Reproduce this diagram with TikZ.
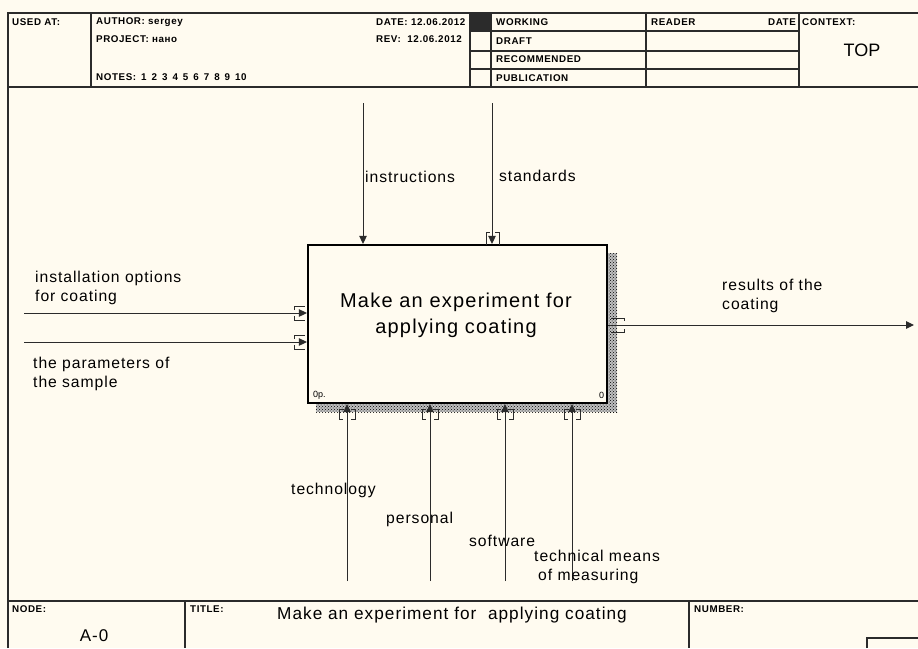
\documentclass[tikz,border=0pt]{standalone}
\usepackage{fontspec}
\setmainfont{Liberation Sans}
\newfontfamily\lblfont[LetterSpace=6]{Liberation Sans}
\newfontfamily\hdrfont[LetterSpace=6]{Liberation Sans}
\usetikzlibrary{arrows.meta,patterns}
\definecolor{bg}{HTML}{FFFBF0}
\definecolor{ink}{HTML}{2B2B2B}
\newcommand{\nsp}{\hspace{5pt}}
\begin{document}
\begin{tikzpicture}[x=1pt,y=-1pt,
  frame/.style={draw=ink, line width=1.4pt},
  thin/.style={draw=ink, line width=1.1pt},
  hdr/.style={anchor=west, inner sep=0pt, font=\hdrfont\bfseries\fontsize{9.8}{11}\selectfont},
  lbl/.style={anchor=west, inner sep=0pt, align=left, font=\lblfont\fontsize{15.7}{18.5}\selectfont},
  arr/.style={draw=ink, line width=1pt, -{Triangle[length=8pt,width=7.5pt]}},
  tun/.style={draw=ink, line width=1pt},
  actbox/.style={draw=black, line width=2.2pt, minimum width=299pt, minimum height=158pt, inner sep=0pt},
  acttxt/.style={inner sep=0pt, align=center, font=\lblfont\fontsize{20}{26}\selectfont},
  shade/.style={fill=black!25, postaction={pattern=crosshatch dots, pattern color=black}}
]
\useasboundingbox (0,0) rectangle (918,648);
\fill[bg] (0,0) rectangle (918,648);

% frame
\draw[frame] (8,648) -- (8,13) -- (918,13);
\draw[frame] (8,87) -- (918,87);
\draw[frame] (91,13) -- (91,87);
\fill[ink] (470,13) rectangle (491,31);
\draw[frame] (470,13) -- (470,87);
\draw[frame] (491,13) -- (491,87);
\draw[frame] (646,13) -- (646,87);
\draw[frame] (799,13) -- (799,87);
\draw[thin] (470,31) -- (799,31);
\draw[thin] (470,51) -- (799,51);
\draw[thin] (470,69) -- (799,69);
\draw[frame] (8,601) -- (918,601);
\draw[frame] (185,601) -- (185,648);
\draw[frame] (689,601) -- (689,648);
\draw[frame] (867,648) -- (867,638) -- (918,638);

% header texts
\node[hdr] (usedat) at (12,22) {USED AT:};
\node[hdr] (author) at (96,22) {AUTHOR: sergey};
\node[hdr] (project) at (96,39) {PROJECT: нано};
\node[hdr] (notes) at (96,77) {NOTES:\nsp 1\nsp 2\nsp 3\nsp 4\nsp 5\nsp 6\nsp 7\nsp 8\nsp 9\nsp 10};
\node[hdr] (date) at (376,22) {DATE: 12.06.2012};
\node[hdr] (rev) at (376,39) {REV:\ \ 12.06.2012};
\node[hdr] (working) at (496,22) {WORKING};
\node[hdr] (draft) at (496,41) {DRAFT};
\node[hdr] (recom) at (496,59) {RECOMMENDED};
\node[hdr] (publ) at (496,78) {PUBLICATION};
\node[hdr] (reader) at (651,22) {READER};
\node[hdr, anchor=east] (rdate) at (796,22) {DATE};
\node[hdr] (context) at (802,22) {CONTEXT:};
\node[inner sep=0pt, font=\fontsize{18}{20}\selectfont] (top) at (862,50) {TOP};

% footer texts
\node[hdr] (nodelbl) at (12,609) {NODE:};
\node[hdr] (titlelbl) at (190,609) {TITLE:};
\node[hdr] (numberlbl) at (694,609) {NUMBER:};
\node[inner sep=0pt, font=\lblfont\fontsize{17}{19}\selectfont] (nodeid) at (94,636) {A-0};
\node[inner sep=0pt, font=\lblfont\fontsize{17.2}{19}\selectfont] (title) at (452,615) {Make an experiment for\ \ applying coating};

% shadow
\path[shade] (608,253) rectangle (617,412);
\path[shade] (316,404) rectangle (617,412);

% activity box
\node[actbox, fill=bg] (act) at (457.5,324) {};
\node[acttxt] (acttext) at (456,315) {Make an experiment for\\applying coating};
\node[inner sep=0pt, anchor=west, font=\fontsize{9}{10}\selectfont] (cost) at (313,395) {0р.};
\node[inner sep=0pt, anchor=west, font=\fontsize{9}{10}\selectfont] (num) at (599,395) {0};

% controls
\coordinate (ctl1) at (363,103);
\coordinate (ctl2) at (492,103);
\draw[arr] (ctl1) -- (ctl1 |- act.north);
\draw[arr] (ctl2) -- (ctl2 |- act.north);
\draw[tun] (486,245) -- (486,232) -- (490,232);
\draw[tun] (499,245) -- (499,232) -- (495,232);

% inputs
\coordinate (in1) at (24,313);
\coordinate (in2) at (24,342);
\draw[arr] (in1) -- (in1 -| act.west);
\draw[arr] (in2) -- (in2 -| act.west);
\foreach \yy in {313,342}{
  \draw[tun] (294,\yy-3) -- (294,\yy-7) -- (305,\yy-7);
  \draw[tun] (294,\yy+3) -- (294,\yy+7) -- (305,\yy+7);
}

% output
\coordinate (out1) at (914,325);
\draw[arr] (out1 -| act.east) -- (out1);
\draw[tun] (611,318) -- (624,318) -- (624,321);
\draw[tun] (611,332) -- (624,332) -- (624,329);

% mechanisms
\coordinate (m1) at (347,581);
\coordinate (m2) at (430,581);
\coordinate (m3) at (505,581);
\coordinate (m4) at (572,581);
\foreach \m/\xx in {m1/347,m2/430,m3/505,m4/572}{
  \draw[arr] (\m) -- (\m |- act.south);
  \draw[tun] (\xx-4,409) -- (\xx-8,409) -- (\xx-8,419) -- (\xx-4,419);
  \draw[tun] (\xx+4,409) -- (\xx+8,409) -- (\xx+8,419) -- (\xx+4,419);
}

% labels
\node[lbl] (linstr) at (365,177) {instructions};
\node[lbl] (lstd) at (499,176) {standards};
\node[lbl] (linst) at (35,288) {installation options\\for coating};
\node[lbl] (lpar) at (33,374) {the parameters of\\the sample};
\node[lbl] (lres) at (722,296) {results of the\\coating};
\node[lbl] (ltech) at (291,490) {technology};
\node[lbl] (lpers) at (386,519) {personal};
\node[lbl] (lsoft) at (469,541) {software};
\node[lbl] (lmeas) at (534,567) {technical means\\\hspace*{4pt}of measuring};
\end{tikzpicture}
\end{document}
